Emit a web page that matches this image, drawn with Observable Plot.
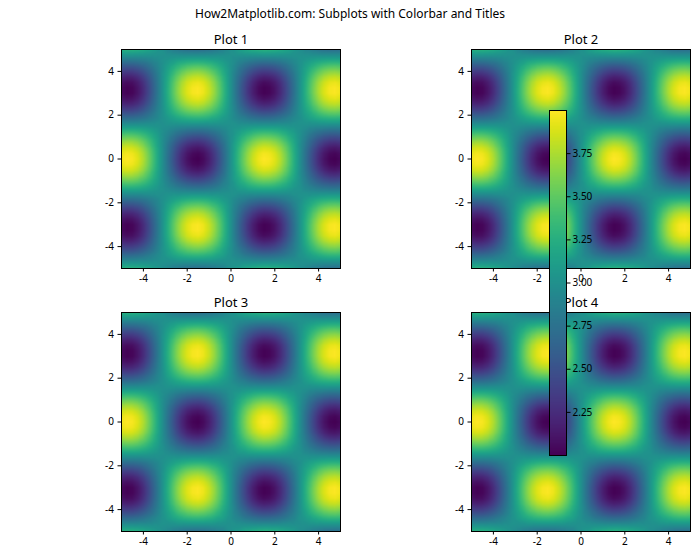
<!DOCTYPE html>
<html><head><meta charset="utf-8">
<script src="https://cdn.jsdelivr.net/npm/d3@7"></script>
<script src="https://cdn.jsdelivr.net/npm/@observablehq/plot@0.6"></script>
<style>
body{margin:0;background:#fff;}
#root{position:relative;width:700px;height:560px;background:#fff;font-family:"Noto Sans",sans-serif;overflow:hidden;}
#root svg{position:absolute;}
#title{position:absolute;left:0;width:700px;top:7px;line-height:14px;text-align:center;font-size:12px;color:#000;white-space:nowrap;}
</style></head><body><div id="root"><div id="title"></div></div>
<script>
const suptitle = "How2Matplotlib.com: Subplots with Colorbar and Titles";
const panelTitles = ["Plot 1", "Plot 2", "Plot 3", "Plot 4"];
const panelOffsets = [0, 1, 2, 3];
const axisTicks = [-4, -2, 0, 2, 4];
const colorbarTicks = [2.25, 2.5, 2.75, 3, 3.25, 3.5, 3.75];
const samplePos = [-5, -4.75, -4.5, -4.25, -4, -3.75, -3.5, -3.25, -3, -2.75, -2.5, -2.25, -2, -1.75, -1.5, -1.25, -1, -0.75, -0.5, -0.25, 0,
  0.25, 0.5, 0.75, 1, 1.25, 1.5, 1.75, 2, 2.25, 2.5, 2.75, 3, 3.25, 3.5, 3.75, 4, 4.25, 4.5, 4.75, 5];
const xProfile = [0.96, 1.00, 0.98, 0.90, 0.76, 0.57, 0.35, 0.11, -0.14, -0.38, -0.60, -0.78, -0.91, -0.98, -1.00, -0.95, -0.84, -0.68, -0.48, -0.25, 0,
  0.25, 0.48, 0.68, 0.84, 0.95, 1.00, 0.98, 0.91, 0.78, 0.60, 0.38, 0.14, -0.11, -0.35, -0.57, -0.76, -0.90, -0.98, -1.00, -0.96];
const yProfile = [0.28, 0.04, -0.21, -0.45, -0.65, -0.82, -0.94, -0.99, -0.99, -0.92, -0.80, -0.63, -0.42, -0.18, 0.07, 0.32, 0.54, 0.73, 0.88, 0.97, 1.00,
  0.97, 0.88, 0.73, 0.54, 0.32, 0.07, -0.18, -0.42, -0.63, -0.80, -0.92, -0.99, -0.99, -0.94, -0.82, -0.65, -0.45, -0.21, 0.04, 0.28];

const root = document.getElementById("root");
document.getElementById("title").textContent = suptitle;

const FONT = '"Noto Sans", sans-serif';
const SIZE = 219;
const frames = [[121, 49], [470.5, 49], [121, 312], [470.5, 312]];
const ML = 40, MR = 10, MT = 30, MB = 30;

let lastDomain = null;
panelTitles.forEach((t, k) => {
  const off = panelOffsets[k];
  const pts = [];
  samplePos.forEach((yv, j) => samplePos.forEach((xv, i) => {
    pts.push({x: xv, y: yv, v: xProfile[i] * yProfile[j] + off});
  }));
  const dom = d3.extent(pts, d => d.v);
  lastDomain = dom;
  const svg = Plot.plot({
    width: ML + SIZE + MR, height: MT + SIZE + MB,
    marginLeft: ML, marginRight: MR, marginTop: MT, marginBottom: MB,
    style: {background: "transparent", fontFamily: FONT, fontSize: "10px", color: "black"},
    x: {domain: [-5, 5], ticks: axisTicks, tickSize: 3.5, tickPadding: 3, tickFormat: d => String(d), label: null},
    y: {domain: [-5, 5], ticks: axisTicks, tickSize: 3.5, tickPadding: 4, tickFormat: d => String(d), label: null},
    color: {type: "linear", scheme: "viridis", domain: dom},
    marks: [
      Plot.raster(pts, {x: "x", y: "y", fill: "v", interpolate: "barycentric"}),
      Plot.frame({stroke: "black", strokeWidth: 1}),
      Plot.text([t], {frameAnchor: "top", lineAnchor: "bottom", dy: -6, fontSize: 13, fill: "black"})
    ]
  });
  svg.style.left = (frames[k][0] - ML) + "px";
  svg.style.top = (frames[k][1] - MT) + "px";
  root.appendChild(svg);
});

// colorbar for the last image
const CB = {left: 549.3, top: 110.3, w: 17, h: 345};
const cML = 5, cMR = 40, cMT = 5, cMB = 5;
const cb = Plot.plot({
  width: cML + CB.w + cMR, height: cMT + CB.h + cMB,
  marginLeft: cML, marginRight: cMR, marginTop: cMT, marginBottom: cMB,
  style: {background: "transparent", fontFamily: FONT, fontSize: "10px", color: "black"},
  x: {domain: [0, 1], axis: null},
  y: {domain: lastDomain, axis: "right", ticks: colorbarTicks, tickSize: 3.5, tickPadding: 2.5, tickFormat: d3.format(".2f"), label: null},
  color: {type: "linear", scheme: "viridis", domain: lastDomain},
  marks: [
    Plot.raster({fill: (x, y) => y, x1: 0, x2: 1, y1: lastDomain[0], y2: lastDomain[1]}),
    Plot.frame({stroke: "black", strokeWidth: 1})
  ]
});
cb.style.left = (CB.left - cML) + "px";
cb.style.top = (CB.top - cMT) + "px";
root.appendChild(cb);
</script>
</body></html>
